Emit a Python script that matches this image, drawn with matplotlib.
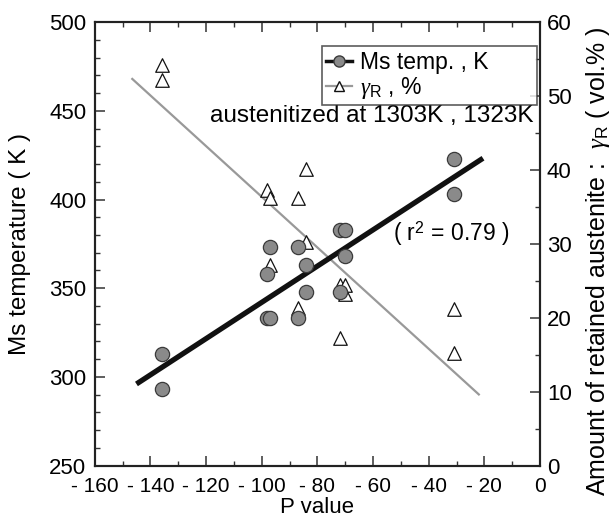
import numpy as np
import matplotlib
matplotlib.use("Agg")
import matplotlib.pyplot as plt
from matplotlib.lines import Line2D
from matplotlib.ticker import MultipleLocator, FixedLocator

# ---- data ----
ms_p = [-136, -136, -98, -97, -87, -84, -98, -97, -87, -84, -72, -70, -70, -72, -31, -31]
ms_temp = [313, 293, 333, 333, 333, 348, 358, 373, 373, 363, 383, 383, 368, 348, 423, 403]

gr_p = [-136, -136, -84, -98, -97, -87, -84, -97, -87, -72, -70, -70, -72, -31, -31]
gr_val = [54.2, 52.2, 40.2, 37.3, 36.2, 36.2, 30.2, 27.2, 21.3, 24.4, 24.4, 23.2, 17.2, 21.2, 15.2]

ms_fit_range = [-145, -20.5]
gr_fit_range = [-146.5, -22]

x_ticks = [-160, -140, -120, -100, -80, -60, -40, -20, 0]
x_tick_labels = ["- 160", "- 140", "- 120", "- 100", "- 80", "- 60", "- 40", "- 20", "0"]
y_ticks = [250, 300, 350, 400, 450, 500]
y2_ticks = [0, 10, 20, 30, 40, 50, 60]

plt.rcParams['font.family'] = ['Liberation Sans', 'DejaVu Sans']
plt.rcParams['mathtext.fontset'] = 'custom'
plt.rcParams['mathtext.rm'] = 'Liberation Sans'
plt.rcParams['mathtext.it'] = 'Liberation Serif:italic'

fig = plt.figure(figsize=(6.13, 5.24), dpi=100)
ax = fig.add_axes([0.1545, 0.1115, 0.7265, 0.8461])
ax2 = ax.twinx()

k1 = np.polyfit(ms_p, ms_temp, 1)
k2 = np.polyfit(gr_p, gr_val, 1)
fx1 = np.array(ms_fit_range, dtype=float)
fx2 = np.array(gr_fit_range, dtype=float)

ax.plot(fx1, np.polyval(k1, fx1), color='#111111', lw=3.8, solid_capstyle='butt', zorder=3)
ax.scatter(ms_p, ms_temp, s=105, facecolor='#8a8a8a', edgecolor='#3a3a3a', lw=0.9, zorder=4)

ax2.plot(fx2, np.polyval(k2, fx2), color='#999999', lw=1.6, zorder=2)
ax2.scatter(gr_p, gr_val, marker='^', s=95, facecolor='white', edgecolor='#111111', lw=0.9, zorder=5)

ax.set_zorder(ax2.get_zorder() + 1)
ax.patch.set_visible(False)

ax.set_xlim(-160, 0)
ax.set_ylim(250, 500)
ax2.set_ylim(0, 60)

ax.xaxis.set_major_locator(FixedLocator(x_ticks))
ax.set_xticklabels(x_tick_labels, fontsize=15)
ax.xaxis.set_minor_locator(MultipleLocator(10))
ax.set_yticks(y_ticks)
ax.set_yticklabels([str(v) for v in y_ticks], fontsize=16)
ax.yaxis.set_minor_locator(MultipleLocator(10))
ax2.set_yticks(y2_ticks)
ax2.set_yticklabels([str(v) for v in y2_ticks], fontsize=16)
ax2.yaxis.set_minor_locator(MultipleLocator(5))

for a in (ax, ax2):
    for s in a.spines.values():
        s.set_linewidth(1.5)
        s.set_color('#222222')
ax.tick_params(axis='both', which='major', direction='in', length=7, width=1.1, color='#333333')
ax.tick_params(axis='both', which='minor', direction='in', length=3.5, width=1.0, color='#333333')
ax.tick_params(axis='x', top=True, which='both')
ax.tick_params(axis='x', which='major', pad=8)
ax.tick_params(axis='y', which='major', pad=6)
ax2.tick_params(axis='y', which='major', direction='in', length=7, width=1.1, color='#333333', pad=5)
ax2.tick_params(axis='y', which='minor', direction='in', length=3.5, width=1.0, color='#333333')

ax.set_xlabel("P value", fontsize=16, labelpad=1)
ax.set_ylabel("Ms temperature ( K )", fontsize=17.5)
ax.yaxis.set_label_coords(-0.143, 0.5)
ax2.set_ylabel(r"Amount of retained austenite :  $\gamma_{\rm R}$ ( vol.% )", fontsize=18)
ax2.yaxis.set_label_coords(1.099, 0.461)

handles = [
    Line2D([], [], color='#111111', lw=2.5, marker='o', markersize=8,
           markerfacecolor='#8a8a8a', markeredgecolor='#3a3a3a'),
    Line2D([], [], color='#999999', lw=1.6, marker='^', markersize=7,
           markerfacecolor='white', markeredgecolor='#111111'),
]
leg = ax.legend(handles, ["Ms temp. , K", r"$\gamma_{\rm R}$ , %"], loc='upper left',
                bbox_to_anchor=(0.510, 0.820, 0.483, 0.126), mode='expand',
                fontsize=16.5, frameon=True, fancybox=False,
                edgecolor='#333333', handlelength=1.1, handletextpad=0.35, borderpad=0.2,
                labelspacing=0.05, borderaxespad=0)
leg.get_frame().set_linewidth(1.2)

ax.text(0.985, 0.789, "austenitized at 1303K , 1323K", transform=ax.transAxes,
        ha='right', va='center', fontsize=17.5)
ax.text(0.93, 0.524, "( r$^{2}$ = 0.79 )", transform=ax.transAxes,
        ha='right', va='center', fontsize=16.5)

fig.savefig("out.png", dpi=100)
